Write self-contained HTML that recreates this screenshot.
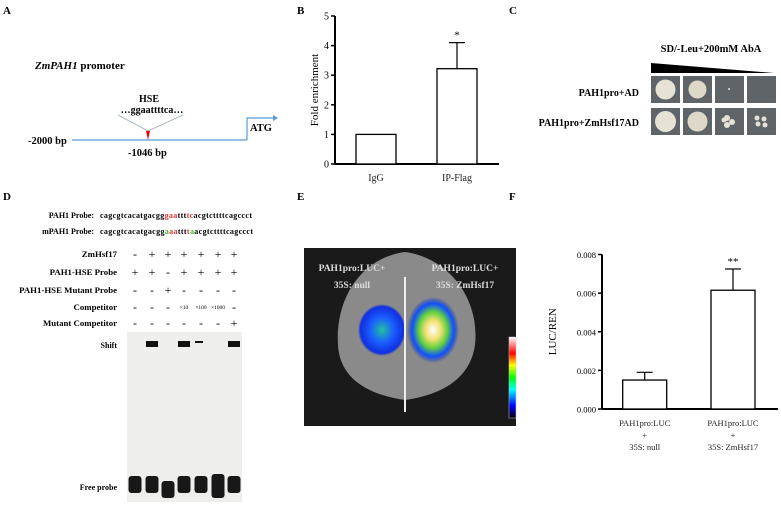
<!DOCTYPE html>
<html><head><meta charset="utf-8"><style>
body{margin:0;background:#fff;width:781px;height:505px;overflow:hidden}
svg{display:block;font-family:"Liberation Serif",serif}
.b{font-weight:bold}
</style></head><body>
<svg width="781" height="505" viewBox="0 0 781 505">
<defs>
<linearGradient id="cb" x1="0" y1="1" x2="0" y2="0">
<stop offset="0" stop-color="#000"/><stop offset="0.15" stop-color="#0000ff"/><stop offset="0.35" stop-color="#00ffff"/><stop offset="0.5" stop-color="#00ff00"/><stop offset="0.65" stop-color="#ffff00"/><stop offset="0.8" stop-color="#ff0000"/><stop offset="1" stop-color="#fff"/>
</linearGradient>
<radialGradient id="lp"><stop offset="0" stop-color="#22c0a0"/><stop offset="0.5" stop-color="#1a5cff"/><stop offset="0.9" stop-color="#1030e0"/><stop offset="1" stop-color="#1030e0" stop-opacity="0"/></radialGradient>
<radialGradient id="rp"><stop offset="0" stop-color="#fff"/><stop offset="0.3" stop-color="#f0e070"/><stop offset="0.55" stop-color="#60d040"/><stop offset="0.8" stop-color="#1050ff"/><stop offset="1" stop-color="#1030c0" stop-opacity="0"/></radialGradient>
</defs>
<g class="b" font-size="11">
<text x="3" y="14">A</text>
<text x="297" y="14">B</text>
<text x="509" y="14">C</text>
<text x="3" y="200">D</text>
<text x="297" y="200">E</text>
<text x="509" y="200">F</text>
</g>
<g>
<text x="35" y="69" font-size="11" class="b"><tspan font-style="italic">ZmPAH1</tspan> promoter</text>
<text x="149" y="102" font-size="10" class="b" text-anchor="middle">HSE</text>
<text x="152" y="113" font-size="10" class="b" text-anchor="middle">…ggaattttca…</text>
<line x1="118" y1="115" x2="148" y2="131" stroke="#9ab" stroke-width="0.8"/>
<line x1="183" y1="115" x2="148" y2="131" stroke="#9ab" stroke-width="0.8"/>
<line x1="72" y1="140" x2="247" y2="140" stroke="#5b9bd5" stroke-width="1.2"/>
<polyline points="247,140 247,118 274,118" fill="none" stroke="#5b9bd5" stroke-width="1.2"/>
<polygon points="273,115 278,118 273,121" fill="#5b9bd5"/>
<polygon points="146,131 150,131 148,140" fill="#e00"/>
<text x="250" y="131" font-size="10.5" class="b">ATG</text>
<text x="28" y="144" font-size="10.5" class="b">-2000 bp</text>
<text x="128" y="156" font-size="10.5" class="b">-1046 bp</text>
</g>
<g id="chartB"></g>
<g>
<text x="711" y="52" font-size="10.5" class="b" text-anchor="middle">SD/-Leu+200mM AbA</text>
<polygon points="651,63 651,73 774,73" fill="#000"/>
<text x="639" y="96" font-size="10" class="b" text-anchor="end">PAH1pro+AD</text>
<text x="639" y="126" font-size="10" class="b" text-anchor="end">PAH1pro+ZmHsf17AD</text>
<g fill="#5f6468">
<rect x="651" y="76" width="29" height="27"/><rect x="683" y="76" width="29" height="27"/><rect x="715" y="76" width="29" height="27"/><rect x="747" y="76" width="29" height="27"/>
<rect x="651" y="108" width="29" height="27"/><rect x="683" y="108" width="29" height="27"/><rect x="715" y="108" width="29" height="27"/><rect x="747" y="108" width="29" height="27"/>
</g>
<g fill="#e6e2d6">
<circle cx="665.5" cy="89.5" r="10"/><circle cx="697.5" cy="89.5" r="9" fill="#ddd8c8"/><circle cx="729" cy="89" r="1"/>
<circle cx="665.5" cy="121.5" r="10.5"/><circle cx="697.5" cy="121.5" r="10" fill="#ddd8c8"/>
<circle cx="727" cy="118" r="3"/><circle cx="732" cy="122" r="3"/><circle cx="727" cy="125" r="3"/><circle cx="724" cy="120" r="2.5"/>
<circle cx="757" cy="118" r="2.5"/><circle cx="764" cy="119" r="2.5"/><circle cx="758" cy="124" r="2.5"/><circle cx="765" cy="125" r="2.5"/>
</g>
</g>
<g font-size="8" class="b">
<text x="94" y="218" text-anchor="end">PAH1 Probe:</text>
<text x="100" y="218" font-size="8" textLength="152">cagcgtcacatgacgg<tspan fill="#e03030">gaa</tspan>ttt<tspan fill="#e03030">tc</tspan>acgtcttttcagccct</text>
<text x="94" y="234" text-anchor="end">mPAH1 Probe:</text>
<text x="100" y="234" font-size="8" textLength="153">cagcgtcacatgacgg<tspan fill="#30c030">a</tspan><tspan fill="#e03030">aa</tspan>ttt<tspan fill="#e03030">t</tspan><tspan fill="#30c030">a</tspan>acgtcttttcagccct</text>
<g id="emsaRows"></g>
<rect x="127" y="332" width="115" height="170" fill="#eeeeec"/>
<text x="117" y="348" text-anchor="end">Shift</text>
<text x="117" y="490" text-anchor="end">Free probe</text>
<g id="gelBands"></g>
</g>
<g>
<rect x="304" y="248" width="212" height="178" fill="#1a1a1a"/>
<path d="M405,252 C450,258 480,300 475,345 C470,380 440,395 405,400 C370,395 340,380 338,345 C335,300 360,258 405,252Z" fill="#8a8a8a"/>
<ellipse cx="382" cy="330" rx="24" ry="26" fill="url(#lp)"/>
<ellipse cx="433" cy="330" rx="26" ry="33" fill="url(#rp)"/>
<line x1="405" y1="277" x2="405" y2="412" stroke="#eee" stroke-width="2"/>
<rect x="509" y="337" width="7" height="81" fill="url(#cb)" stroke="#ccc" stroke-width="0.5"/>
<g class="b" font-size="9.5" fill="#ddd" text-anchor="middle">
<text x="352" y="271">PAH1pro:LUC+</text><text x="352" y="288">35S: null</text>
<text x="465" y="271">PAH1pro:LUC+</text><text x="465" y="288">35S: ZmHsf17</text>
</g>
</g>
<g id="chartF"></g>
</svg>
<script>
const NS="http://www.w3.org/2000/svg";
function mk(p,t,a,txt){const e=document.createElementNS(NS,t);for(const k in a)e.setAttribute(k,a[k]);if(txt!==undefined)e.textContent=txt;p.appendChild(e);return e;}
const bCategories=["IgG","IP-Flag"];
const bValues=[1,3.22];
const bErrors=[0,0.88];
const bTicks=[0,1,2,3,4,5];
const bSig=["","*"];
const fCategories=[["PAH1pro:LUC","+","35S: null"],["PAH1pro:LUC","+","35S: ZmHsf17"]];
const fValues=[0.0015,0.00615];
const fErrors=[0.0004,0.0011];
const fTicks=["0.000","0.002","0.004","0.006","0.008"];
const fSig=["","**"];
const emsaLabels=["ZmHsf17","PAH1-HSE Probe","PAH1-HSE Mutant Probe","Competitor","Mutant Competitor"];
const emsaMarks=[["-","+","+","+","+","+","+"],["+","+","-","+","+","+","+"],["-","-","+","-","-","-","-"],["-","-","-","×10","×100","×1000","-"],["-","-","-","-","-","-","+"]];
const shiftIntensity=[0,1,0,1,0.5,0,1];

function barChart(g,o){
  const y=v=>o.y0-(v-o.min)/(o.max-o.min)*(o.y0-o.y1);
  mk(g,"line",{x1:o.ax,y1:o.y1,x2:o.ax,y2:o.y0,stroke:"#000","stroke-width":2});
  mk(g,"line",{x1:o.ax,y1:o.y0,x2:o.xend,y2:o.y0,stroke:"#000","stroke-width":2});
  o.ticks.forEach(t=>{const v=parseFloat(t);const yy=y(v);
    mk(g,"line",{x1:o.ax-4,y1:yy,x2:o.ax,y2:yy,stroke:"#000","stroke-width":1.5});
    const tx=mk(g,"text",{x:o.ax-6,y:yy+3.5,"font-size":o.fs,"text-anchor":"end"},t);
    
    });
  o.values.forEach((v,i)=>{const cx=o.cx[i];const top=y(v);
    const r=mk(g,"rect",{x:cx-o.bw/2,y:top,width:o.bw,height:o.y0-top,fill:"#fff",stroke:"#000","stroke-width":1.3});
    
    
    if(o.errors[i]>0){const e=y(v+o.errors[i]);
      mk(g,"line",{x1:cx,y1:top,x2:cx,y2:e,stroke:"#000","stroke-width":1.2});
      mk(g,"line",{x1:cx-8,y1:e,x2:cx+8,y2:e,stroke:"#000","stroke-width":1.2});
      if(o.sig[i]){const s=mk(g,"text",{x:cx,y:e-4,"font-size":11,"text-anchor":"middle"},o.sig[i]);
        
        }}
    const lab=[].concat(o.cats[i]);
    lab.forEach((l,j)=>{const t=mk(g,"text",{x:cx,y:o.y0+o.ly+j*12,"font-size":o.fs,"text-anchor":"middle",fill:"#222"},l);
      
      });
  });
  const yl=mk(g,"text",{x:o.ylx,y:(o.y0+o.y1)/2,"font-size":o.yfs,"text-anchor":"middle",transform:`rotate(-90 ${o.ylx} ${(o.y0+o.y1)/2})`},o.ytitle);
  
  
}
barChart(document.getElementById("chartB"),{ax:335,xend:499,y0:164,y1:16,min:0,max:5,ticks:bTicks.map(String),values:bValues,errors:bErrors,sig:bSig,cx:[376,457],bw:40,cats:bCategories,fs:10,ly:17,ylx:318,yfs:11,ytitle:"Fold enrichment"});
barChart(document.getElementById("chartF"),{ax:602,xend:778,y0:409,y1:254.5,min:0,max:0.008,ticks:fTicks,values:fValues,errors:fErrors,sig:fSig,cx:[644.7,733],bw:44,cats:fCategories,fs:8.5,ly:17,ylx:556,yfs:11,ytitle:"LUC/REN"});

const laneX=[135,152,168,184,201,218,234];
const rowY=[257,275,293,310,326];
const er=document.getElementById("emsaRows");
emsaLabels.forEach((l,r)=>{
  const t=mk(er,"text",{x:117,y:rowY[r],"text-anchor":"end","font-size":8.8},l);
  
  
  emsaMarks[r].forEach((m,i)=>{const s=mk(er,"text",{x:laneX[i],y:rowY[r]+(m.length>1?-1:1),"text-anchor":"middle","font-size":m.length>1?5.5:12,"font-weight":"normal"},m);
    
    });
});
const gb=document.getElementById("gelBands");
laneX.forEach((x,i)=>{
  if(shiftIntensity[i]>0){const b=mk(gb,"rect",{x:x-6,y:341,width:shiftIntensity[i]>0.7?12:8,height:shiftIntensity[i]>0.7?6:2,fill:"#111"});
    
    }
  const f=mk(gb,"rect",{x:x-6.5,y:i===2?481:i===5?474:476,width:13,height:i===5?24:17,rx:3,fill:"#181818"});
  
  
});
</script>
</body></html>
